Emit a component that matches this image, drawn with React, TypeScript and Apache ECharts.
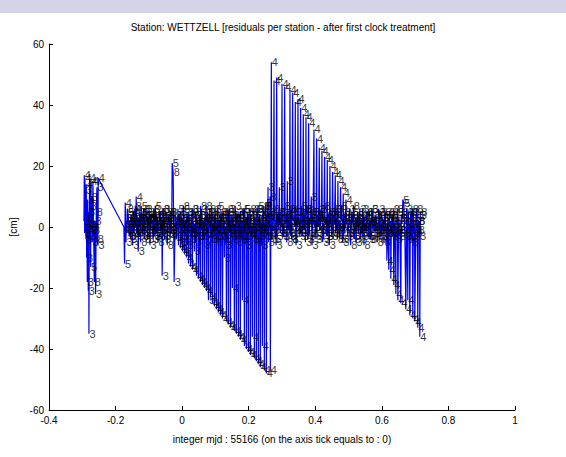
import React, { useEffect, useRef } from "react";
import * as echarts from "echarts";

const TITLE = "Station: WETTZELL [residuals per station - after first clock treatment]";
const X_NAME = "integer mjd : 55166 (on the axis tick equals to : 0)";
const Y_NAME = "[cm]";
const X_TICKS = { min: -0.4, max: 1, interval: 0.2 };
const Y_TICKS = { min: -60, max: 60, interval: 20 };

// [time offset (days), residual (cm), baseline station label]
const sessionA: number[][] = [
  [-0.295, 2, 3], [-0.294, 17, 4], [-0.293, -2, 8], [-0.292, 16, 4], [-0.291, 0, 3],
  [-0.29, 12, 3], [-0.289, -4, 8], [-0.288, 14, 4], [-0.287, -10, 3], [-0.286, 3, 8],
  [-0.285, -18, 3], [-0.284, 9, 3], [-0.283, -1, 4], [-0.282, -21, 3], [-0.281, 5, 3],
  [-0.28, -35, 3], [-0.279, 1, 8], [-0.278, 16, 4], [-0.277, -3, 3], [-0.276, 7, 3],
  [-0.275, -13, 5], [-0.274, 15, 4], [-0.273, 0, 8], [-0.272, 10, 3], [-0.27, -5, 3],
  [-0.268, 15, 4], [-0.266, -1, 8], [-0.264, -18, 8], [-0.262, 2, 3], [-0.26, -22, 3],
  [-0.258, 5, 8], [-0.256, 13, 3], [-0.255, -4, 8], [-0.253, -6, 3], [-0.252, 16, 4],
];

const sessionB1: number[][] = [
  [-0.175, 0, 8], [-0.173, -12, 5], [-0.171, 8, 4], [-0.168, 2, 8], [-0.165, -2, 5],
  [-0.162, 4, 3], [-0.159, -3, 8], [-0.156, 1, 5], [-0.153, 3, 8], [-0.15, -1, 3],
  [-0.147, 5, 4], [-0.144, -2, 8], [-0.141, 2, 3], [-0.138, 10, 4], [-0.135, 0, 8],
  [-0.132, -8, 3], [-0.129, 3, 5], [-0.126, -1, 8], [-0.123, 7, 5], [-0.12, 2, 3],
  [-0.117, -3, 8], [-0.114, 4, 4], [-0.111, 1, 3], [-0.108, 5, 5], [-0.105, -2, 8],
  [-0.102, 3, 3], [-0.099, 0, 8], [-0.096, 4, 4], [-0.093, -1, 5], [-0.09, 2, 8],
  [-0.087, -4, 3], [-0.084, 3, 8], [-0.081, 1, 5], [-0.078, -2, 3], [-0.075, 4, 8],
  [-0.072, 0, 4], [-0.069, 2, 3], [-0.066, -3, 8], [-0.063, 1, 5], [-0.06, -16, 3],
  [-0.057, 3, 8], [-0.054, -1, 4], [-0.051, 2, 3], [-0.048, 5, 8], [-0.045, -2, 5],
  [-0.042, 1, 3], [-0.039, 4, 8], [-0.036, -3, 4], [-0.033, 0, 3], [-0.03, 21, 5],
  [-0.027, 18, 8], [-0.024, -18, 3], [-0.021, 2, 8],
];

const sessionB1Band: number[][] = [
  [-0.1695, 3, 3], [-0.1665, -1, 8], [-0.1635, 5, 5], [-0.1605, 0, 3], [-0.1575, 2, 8],
  [-0.1545, -4, 3], [-0.1515, 4, 5], [-0.1485, 1, 8], [-0.1455, -2, 3], [-0.1425, 6, 4],
  [-0.1395, 0, 8], [-0.1365, 3, 3], [-0.1335, -3, 5], [-0.1305, 2, 8], [-0.1275, 5, 3],
  [-0.1245, -1, 8], [-0.1215, 3, 5], [-0.1185, 0, 3], [-0.1155, 6, 8], [-0.1125, -2, 3],
  [-0.1095, 2, 8], [-0.1065, 4, 5], [-0.1035, -4, 3], [-0.1005, 1, 8], [-0.0975, 5, 3],
  [-0.0945, -1, 8], [-0.0915, 3, 5], [-0.0885, 0, 3], [-0.0855, 6, 8], [-0.0825, -3, 3],
  [-0.0795, 2, 8], [-0.0765, 4, 5], [-0.0735, -2, 3], [-0.0705, 1, 8], [-0.0675, 5, 4],
  [-0.0645, -1, 3], [-0.0615, 3, 8], [-0.0585, 0, 5], [-0.0555, 6, 8], [-0.0525, -3, 3],
  [-0.0495, 2, 8], [-0.0465, 4, 3], [-0.0435, -1, 5], [-0.0405, 3, 8], [-0.0375, 0, 3],
  [-0.0345, 5, 8], [-0.0315, -2, 3],
];

const sessionB2: number[][] = [
  [-0.018, 3, 8], [-0.017, -4, 4], [-0.012, 1, 3], [-0.011, -6, 4], [-0.006, 5, 8],
  [-0.005, -7, 4], [0.0, -1, 3], [0.001, -8, 4], [0.006, 3, 8], [0.007, -9, 4],
  [0.012, 0, 5], [0.013, -10, 4], [0.018, 4, 3], [0.019, -12, 4], [0.024, -2, 8],
  [0.025, -13, 4], [0.03, 6, 8], [0.031, -14, 4], [0.036, 1, 3], [0.037, -8, 3],
  [0.042, 2, 8], [0.043, -16, 4], [0.048, -3, 3], [0.049, -17, 4], [0.054, 4, 8],
  [0.055, -18, 4], [0.06, 0, 5], [0.061, -19, 4], [0.066, 3, 3], [0.067, -20, 4],
  [0.072, 7, 8], [0.073, -21, 4], [0.078, -1, 3], [0.079, -24, 5], [0.084, 2, 8],
  [0.085, -23, 4], [0.09, 5, 3], [0.091, -25, 4], [0.096, -2, 8], [0.097, -26, 4],
  [0.102, 3, 3], [0.103, -27, 4], [0.108, 1, 8], [0.109, -28, 4], [0.114, 4, 5],
  [0.115, -29, 4], [0.12, -3, 3], [0.121, -30, 4], [0.126, 2, 8], [0.127, -10, 3],
  [0.132, 0, 3], [0.133, -31, 4], [0.138, 5, 8], [0.139, -32, 4], [0.144, -1, 3],
  [0.145, -33, 4], [0.15, 3, 8], [0.151, -20, 4], [0.156, 1, 5], [0.157, -34, 4],
  [0.162, -2, 3], [0.163, -35, 4], [0.168, 4, 8], [0.169, -36, 4], [0.174, 0, 3],
  [0.175, -37, 4], [0.18, 2, 8], [0.181, -24, 4], [0.186, -3, 3], [0.187, -39, 4],
  [0.192, 3, 8], [0.193, -40, 4], [0.198, 1, 5], [0.199, -41, 4], [0.204, 6, 8],
  [0.205, -42, 4], [0.21, -2, 3], [0.211, -36, 4], [0.216, 2, 8], [0.217, -43, 4],
  [0.222, 0, 3], [0.223, -44, 4], [0.228, 7, 5], [0.229, -45, 4], [0.234, -3, 3],
  [0.235, -46, 4], [0.24, 4, 8], [0.241, -39, 4], [0.246, 1, 3], [0.247, -47, 4],
  [0.252, 8, 5], [0.253, -48, 4], [0.258, 13, 3], [0.259, -5, 3], [0.264, 10, 8],
  [0.265, -47, 4],
];

const sessionB2Band: number[][] = [
  [-0.0155, 2, 3], [-0.0135, -1, 8], [-0.0095, 4, 5], [-0.0075, 0, 3], [-0.0035, -3, 8], [-0.0015, 3, 3],
  [0.0025, 1, 8], [0.0045, 6, 5], [0.0085, -2, 3], [0.0105, 2, 8], [0.0145, 5, 3], [0.0165, -1, 8],
  [0.0205, 0, 5], [0.0225, 3, 3], [0.0265, -4, 8], [0.0285, 2, 3], [0.0325, 4, 8], [0.0345, -2, 5],
  [0.0385, 1, 3], [0.0405, 5, 8], [0.0445, -3, 3], [0.0465, 2, 8], [0.0505, 0, 5], [0.0525, 4, 3],
  [0.0565, -1, 8], [0.0585, 6, 3], [0.0625, 2, 8], [0.0645, -3, 5], [0.0685, 1, 3], [0.0705, 3, 8],
  [0.0745, -2, 3], [0.0765, 5, 8], [0.0805, 0, 5], [0.0825, 2, 3], [0.0865, -4, 8], [0.0885, 4, 3],
  [0.0925, 1, 8], [0.0945, -1, 5], [0.0985, 6, 3], [0.1005, 0, 8], [0.1045, -3, 3], [0.1065, 3, 8],
  [0.1105, 2, 5], [0.1125, -2, 3], [0.1165, 5, 8], [0.1185, 1, 3], [0.1225, -1, 8], [0.1245, 4, 5],
  [0.1285, 0, 3], [0.1305, -4, 8], [0.1345, 3, 3], [0.1365, 1, 8], [0.1405, -2, 5], [0.1425, 6, 3],
  [0.1465, 2, 8], [0.1485, -3, 3], [0.1525, 4, 8], [0.1545, 0, 5], [0.1585, -1, 3], [0.1605, 3, 8],
  [0.1645, 5, 3], [0.1665, -2, 8], [0.1705, 1, 5], [0.1725, 4, 3], [0.1765, -4, 8], [0.1785, 2, 3],
  [0.1825, 0, 8], [0.1845, 6, 5], [0.1885, -1, 3], [0.1905, 3, 8], [0.1945, -3, 3], [0.1965, 5, 8],
  [0.2005, 1, 5], [0.2025, -2, 3], [0.2065, 4, 8], [0.2085, 0, 3], [0.2125, -4, 8], [0.2145, 3, 5],
  [0.2185, 2, 3], [0.2205, -1, 8], [0.2245, 6, 3], [0.2265, 1, 8], [0.2305, -3, 5], [0.2325, 4, 3],
  [0.2365, 0, 8], [0.2385, -2, 3], [0.2425, 5, 8], [0.2445, 2, 5], [0.2485, -1, 3], [0.2505, 7, 8],
  [0.2545, 3, 3], [0.2565, -3, 8], [0.2605, 4, 5], [0.2625, 0, 3],
];

const sessionC: number[][] = [
  [0.268, 54, 4], [0.269, -2, 3], [0.276, 48, 4], [0.277, 3, 8], [0.284, 49, 4],
  [0.285, -3, 3], [0.292, 13, 3], [0.293, 1, 8], [0.3, 47, 4], [0.301, -2, 3],
  [0.308, 46, 4], [0.309, 4, 5], [0.316, 15, 3], [0.317, 0, 3], [0.324, 45, 4],
  [0.325, -3, 8], [0.332, 44, 4], [0.333, 2, 3], [0.34, 41, 4], [0.341, -1, 8],
  [0.348, 42, 4], [0.349, 3, 5], [0.356, 39, 4], [0.357, -2, 3], [0.364, 37, 4],
  [0.365, 1, 8], [0.372, 36, 4], [0.373, 4, 3], [0.38, 34, 4], [0.381, -3, 8],
  [0.388, 10, 3], [0.389, 2, 5], [0.396, 32, 4], [0.397, 0, 8], [0.404, 29, 4],
  [0.405, -2, 3], [0.412, 26, 4], [0.413, 3, 8], [0.42, 25, 4], [0.421, -1, 3],
  [0.428, 23, 4], [0.429, 2, 8], [0.436, 22, 4], [0.437, -3, 5], [0.444, 20, 4],
  [0.445, 1, 3], [0.452, 18, 4], [0.453, 4, 8], [0.46, 17, 4], [0.461, -2, 3],
  [0.468, 15, 4], [0.469, 0, 8], [0.476, 13, 4], [0.477, 3, 3], [0.484, 11, 4],
  [0.485, -4, 8], [0.492, 9, 4], [0.493, 1, 3],
];

const sessionCBand: number[][] = [
  [0.271, 3, 8], [0.2735, -1, 3], [0.279, -4, 5], [0.2815, 2, 8], [0.287, 0, 3], [0.2895, 5, 8],
  [0.295, -2, 3], [0.2975, 3, 5], [0.303, 1, 8], [0.3055, -3, 3], [0.311, 4, 8], [0.3135, 0, 3],
  [0.319, -1, 5], [0.3215, 6, 8], [0.327, 2, 3], [0.3295, -4, 8], [0.335, 3, 5], [0.3375, 0, 3],
  [0.343, -2, 8], [0.3455, 5, 3], [0.351, 1, 8], [0.3535, -3, 5], [0.359, 4, 3], [0.3615, 2, 8],
  [0.367, -1, 3], [0.3695, 6, 8], [0.375, 0, 5], [0.3775, -4, 3], [0.383, 3, 8], [0.3855, 1, 3],
  [0.391, -2, 8], [0.3935, 5, 5], [0.399, 2, 3], [0.4015, -3, 8], [0.407, 4, 3], [0.4095, 0, 8],
  [0.415, -1, 5], [0.4175, 6, 3], [0.423, 1, 8], [0.4255, -4, 3], [0.431, 3, 8], [0.4335, 0, 5],
  [0.439, -2, 3], [0.4415, 5, 8], [0.447, 2, 3], [0.4495, -3, 8], [0.455, 4, 5], [0.4575, 1, 3],
  [0.463, -1, 8], [0.4655, 6, 3], [0.471, 0, 8], [0.4735, -4, 5], [0.479, 3, 3], [0.4815, 1, 8],
  [0.487, -2, 3], [0.4895, 5, 8], [0.495, 2, 5], [0.4975, -3, 3],
];

const sessionD: number[][] = [
  [0.5, -2, 8], [0.504, 3, 5], [0.508, 0, 3], [0.512, 4, 8], [0.516, -3, 3],
  [0.52, 2, 4], [0.524, -1, 8], [0.528, 5, 3], [0.532, 1, 5], [0.536, -4, 8],
  [0.54, 2, 3], [0.544, 0, 8], [0.548, 3, 4], [0.552, -2, 3], [0.556, 4, 8],
  [0.56, 1, 3], [0.564, -3, 8], [0.568, 2, 5], [0.572, 0, 3], [0.576, 4, 8],
  [0.58, -2, 3], [0.584, 3, 8], [0.588, -1, 5], [0.592, 5, 3], [0.596, 0, 8],
  [0.6, -3, 3], [0.604, 2, 8], [0.608, 4, 5],
];

const sessionDBand: number[][] = [
  [0.502, 3, 3], [0.506, -1, 8], [0.51, 5, 5], [0.514, 0, 3], [0.518, -4, 8], [0.522, 3, 3],
  [0.526, 1, 8], [0.53, -2, 5], [0.534, 6, 3], [0.538, 0, 8], [0.542, -3, 3], [0.546, 4, 8],
  [0.55, 1, 5], [0.554, -1, 3], [0.558, 5, 8], [0.562, -4, 3], [0.566, 2, 8], [0.57, 6, 5],
  [0.574, -2, 3], [0.578, 1, 8], [0.582, 4, 3], [0.586, -3, 8], [0.59, 2, 5], [0.594, -1, 3],
  [0.598, 5, 8], [0.602, 0, 3], [0.606, -2, 8],
];

const sessionE: number[][] = [
  [0.612, -1, 3], [0.615, -11, 4], [0.618, 3, 8], [0.621, -14, 4], [0.624, 0, 3],
  [0.627, -17, 4], [0.63, 4, 8], [0.633, -2, 3], [0.636, -19, 4], [0.639, 2, 5],
  [0.642, -22, 4], [0.645, -1, 8], [0.648, -24, 4], [0.651, 3, 3], [0.654, -3, 8],
  [0.657, -25, 4], [0.66, 1, 3], [0.663, 9, 5], [0.666, 8, 5], [0.669, -2, 8],
  [0.672, -27, 4], [0.675, 4, 3], [0.678, -24, 4], [0.681, 0, 8], [0.684, -29, 4],
  [0.687, 5, 8], [0.69, -3, 3], [0.693, -30, 4], [0.696, 2, 8], [0.699, -31, 4],
  [0.702, -1, 3], [0.705, 6, 8], [0.708, -33, 4], [0.711, 2, 3], [0.714, -36, 4],
  [0.717, 5, 8],
];

const sessionEBand: number[][] = [
  [0.6105, 4, 8], [0.6165, -2, 3], [0.6225, 5, 5], [0.6285, -1, 3], [0.6345, 3, 8], [0.6405, 0, 3],
  [0.6465, 6, 8], [0.6525, -2, 5], [0.6585, 4, 3], [0.6675, 2, 8], [0.6735, -3, 3], [0.6795, 5, 8],
  [0.6855, 1, 3], [0.6915, 6, 8], [0.6975, -2, 3], [0.7035, 3, 5], [0.7095, -1, 8], [0.7155, 4, 3],
];

// further small residuals of the remaining baselines (dense band around zero)
const bandObsEarly: number[][] = [
  [-0.1687, -5, 3], [-0.1647, 6, 8], [-0.1607, 2, 5], [-0.1567, -3, 3], [-0.1527, 4, 8],
  [-0.1487, -6, 3], [-0.1447, 1, 5], [-0.1407, 7, 8], [-0.1367, -2, 3], [-0.1327, 3, 8],
  [-0.1287, 0, 3], [-0.1247, -5, 8], [-0.1207, 5, 5], [-0.1167, 2, 3], [-0.1127, -4, 8],
  [-0.1087, 6, 3], [-0.1047, -1, 5], [-0.1007, 3, 8], [-0.0967, -6, 3], [-0.0927, 4, 8],
  [-0.0887, 1, 3], [-0.0847, -3, 8], [-0.0807, 7, 5], [-0.0767, 0, 3], [-0.0727, -5, 8],
  [-0.0687, 2, 3], [-0.0647, 5, 5], [-0.0607, -2, 8], [-0.0567, 6, 3], [-0.0527, -4, 8],
  [-0.0487, 3, 3], [-0.0447, -6, 8], [-0.0407, 1, 5], [-0.0367, 5, 3], [-0.0327, -1, 8],
  [-0.0207, 4, 3], [-0.0167, -3, 8], [-0.0127, 6, 5], [-0.0087, 0, 3], [-0.0047, -5, 8],
  [-0.0007, 2, 3], [0.0033, 7, 8], [0.0073, -4, 5], [0.0113, 1, 3], [0.0153, -6, 8],
  [0.0193, 5, 3], [0.0233, 3, 5], [0.0273, -2, 8], [0.0313, 6, 3], [0.0353, 0, 8],
  [0.0393, -5, 3], [0.0433, 4, 8], [0.0473, 1, 5], [0.0513, -3, 3], [0.0553, 7, 8],
  [0.0593, -1, 3], [0.0633, 2, 5], [0.0673, -6, 8], [0.0713, 5, 3], [0.0753, 3, 8],
];

const bandObsMid: number[][] = [
  [0.0793, -2, 3], [0.0833, 6, 8], [0.0873, 0, 5], [0.0913, -4, 3], [0.0953, 4, 8],
  [0.0993, 1, 3], [0.1033, -5, 8], [0.1073, 7, 5], [0.1113, -1, 3], [0.1153, 3, 8],
  [0.1193, -3, 3], [0.1233, 5, 8], [0.1273, 2, 5], [0.1313, -6, 3], [0.1353, 6, 8],
  [0.1393, 0, 3], [0.1433, -2, 8], [0.1473, 4, 5], [0.1513, -4, 3], [0.1553, 1, 8],
  [0.1593, 7, 3], [0.1633, -5, 8], [0.1673, 3, 5], [0.1713, -1, 3], [0.1753, 5, 8],
  [0.1793, -3, 3], [0.1833, 2, 8], [0.1873, 6, 5], [0.1913, -6, 3], [0.1953, 0, 8],
  [0.1993, 4, 3], [0.2033, -2, 8], [0.2073, 1, 5], [0.2113, -4, 3], [0.2153, 6, 8],
  [0.2193, 3, 3], [0.2233, -5, 8], [0.2273, 5, 5], [0.2313, -1, 3], [0.2353, 2, 8],
  [0.2393, -6, 3], [0.2433, 7, 8], [0.2473, 0, 5], [0.2513, -3, 3], [0.2553, 4, 8],
  [0.2593, -1, 3], [0.2633, 5, 8],
];

const bandObsLate: number[][] = [
  [0.2703, -4, 3], [0.2743, 6, 8], [0.2783, 2, 5], [0.2823, -6, 3], [0.2863, 3, 8],
  [0.2903, -1, 3], [0.2943, 5, 8], [0.2983, 0, 5], [0.3023, -3, 3], [0.3063, 7, 8],
  [0.3103, 1, 3], [0.3143, -5, 8], [0.3183, 4, 5], [0.3223, -2, 3], [0.3263, 6, 8],
  [0.3303, -4, 3], [0.3343, 2, 8], [0.3383, 5, 5], [0.3423, -6, 3], [0.3463, 0, 8],
  [0.3503, 3, 3], [0.3543, -1, 8], [0.3583, 7, 5], [0.3623, -3, 3], [0.3663, 1, 8],
  [0.3703, -5, 3], [0.3743, 6, 8], [0.3783, 2, 5], [0.3823, -2, 3], [0.3863, 4, 8],
  [0.3903, -6, 3], [0.3943, 5, 8], [0.3983, 0, 5], [0.4023, -4, 3], [0.4063, 3, 8],
  [0.4103, 6, 3], [0.4143, -1, 8], [0.4183, 2, 5], [0.4223, -5, 3], [0.4263, 7, 8],
  [0.4303, 1, 3], [0.4343, -3, 8], [0.4383, 4, 5], [0.4423, -6, 3], [0.4463, 5, 8],
  [0.4503, 0, 3], [0.4543, -2, 8], [0.4583, 6, 5], [0.4623, 3, 3], [0.4663, -4, 8],
  [0.4703, 2, 3], [0.4743, -1, 8], [0.4783, 7, 5], [0.4823, -5, 3], [0.4863, 4, 8],
  [0.4903, 0, 3], [0.4943, 3, 8], [0.4983, -2, 5], [0.5023, 6, 3], [0.5063, -6, 8],
  [0.5103, 2, 3], [0.5143, 7, 8], [0.5183, -1, 5], [0.5223, -5, 3], [0.5263, 4, 8],
  [0.5303, 0, 3], [0.5343, 3, 8], [0.5383, -2, 5], [0.5423, 6, 3], [0.5463, -6, 8],
  [0.5503, 1, 3], [0.5543, 5, 8], [0.5583, -3, 5], [0.5623, 2, 3], [0.5663, -4, 8],
  [0.5703, 6, 3], [0.5743, 0, 8], [0.5783, -1, 5], [0.5823, 4, 3], [0.5863, -5, 8],
  [0.5903, 6, 3], [0.5943, -4, 8], [0.5983, 1, 5], [0.6023, 3, 3], [0.6063, -5, 8],
  [0.6103, 5, 3], [0.6143, 0, 8], [0.6183, -2, 5], [0.6223, 4, 3], [0.6263, 2, 8],
  [0.6303, -3, 3], [0.6343, 6, 8], [0.6383, 1, 5], [0.6423, -4, 3], [0.6463, 5, 8],
  [0.6503, 0, 3], [0.6543, -1, 8], [0.6583, 3, 5], [0.6623, 5, 3], [0.6703, -2, 8],
  [0.6743, 6, 3], [0.6783, -4, 8], [0.6823, 1, 5], [0.6863, 3, 3], [0.6903, -5, 8],
  [0.6943, 5, 3], [0.6983, 0, 8], [0.7023, -2, 5], [0.7063, 4, 3], [0.7103, 2, 8],
  [0.7133, -3, 3],
];

const RESIDUALS = [
  ...sessionA, ...sessionB1, ...sessionB1Band, ...sessionB2, ...sessionB2Band,
  ...sessionC, ...sessionCBand, ...sessionD, ...sessionDBand, ...sessionE, ...sessionEBand,
  ...bandObsEarly, ...bandObsMid, ...bandObsLate,
].sort((a, b) => a[0] - b[0]);

const FONT = "'Liberation Sans', Arial, Helvetica, sans-serif";

export default function App() {
  const ref = useRef<HTMLDivElement>(null);
  useEffect(() => {
    const chart = echarts.init(ref.current!, null, { renderer: "svg" });
    chart.setOption({
      animation: false,
      backgroundColor: "#ffffff",
      textStyle: { fontFamily: FONT },
      graphic: [
        {
          type: "rect",
          shape: { x: 0, y: 0, width: 566, height: 13 },
          style: { fill: "#d5d3e8" },
          silent: true,
        },
      ],
      title: {
        text: TITLE,
        left: "center",
        top: 17,
        textStyle: { fontSize: 10, fontWeight: "normal", color: "#000", fontFamily: FONT },
      },
      grid: { left: 47, right: 51, top: 44, bottom: 47 },
      xAxis: {
        type: "value",
        min: X_TICKS.min,
        max: X_TICKS.max,
        interval: X_TICKS.interval,
        name: X_NAME,
        nameLocation: "middle",
        nameGap: 24,
        nameTextStyle: { fontSize: 10, color: "#000", fontFamily: FONT },
        axisLine: { show: true, onZero: false, lineStyle: { color: "#000", width: 1 } },
        axisTick: { show: true, inside: true, length: 4, lineStyle: { color: "#000" } },
        axisLabel: { fontSize: 10, color: "#000", margin: 5, fontFamily: FONT },
        splitLine: { show: false },
      },
      yAxis: {
        type: "value",
        min: Y_TICKS.min,
        max: Y_TICKS.max,
        interval: Y_TICKS.interval,
        name: Y_NAME,
        nameLocation: "middle",
        nameGap: 31,
        nameRotate: 90,
        nameTextStyle: { fontSize: 10, color: "#000", fontFamily: FONT },
        axisLine: { show: true, onZero: false, lineStyle: { color: "#000", width: 1 } },
        axisTick: { show: true, inside: true, length: 4, lineStyle: { color: "#000" } },
        axisLabel: { fontSize: 10, color: "#000", margin: 5, fontFamily: FONT },
        splitLine: { show: false },
      },
      series: [
        {
          type: "line",
          data: RESIDUALS.map((d) => [d[0], d[1]]),
          showSymbol: false,
          symbol: "none",
          silent: true,
          lineStyle: { color: "#0000ff", width: 1.2 },
          itemStyle: { color: "#0000ff" },
          z: 2,
        },
        {
          type: "scatter",
          data: RESIDUALS.map((d) => [d[0], d[1], d[2]]),
          symbolSize: 1,
          silent: true,
          itemStyle: { color: "rgba(0,0,0,0)" },
          label: {
            show: true,
            position: "right",
            distance: 0,
            formatter: (p: any) => String(p.value[2]),
            color: "#000",
            fontSize: 11,
            fontFamily: FONT,
          },
          z: 3,
        },
      ],
    });
    return () => chart.dispose();
  }, []);
  return (
    <div
      ref={ref}
      style={{ position: "fixed", left: 0, top: 0, width: 566, height: 457 }}
    />
  );
}
